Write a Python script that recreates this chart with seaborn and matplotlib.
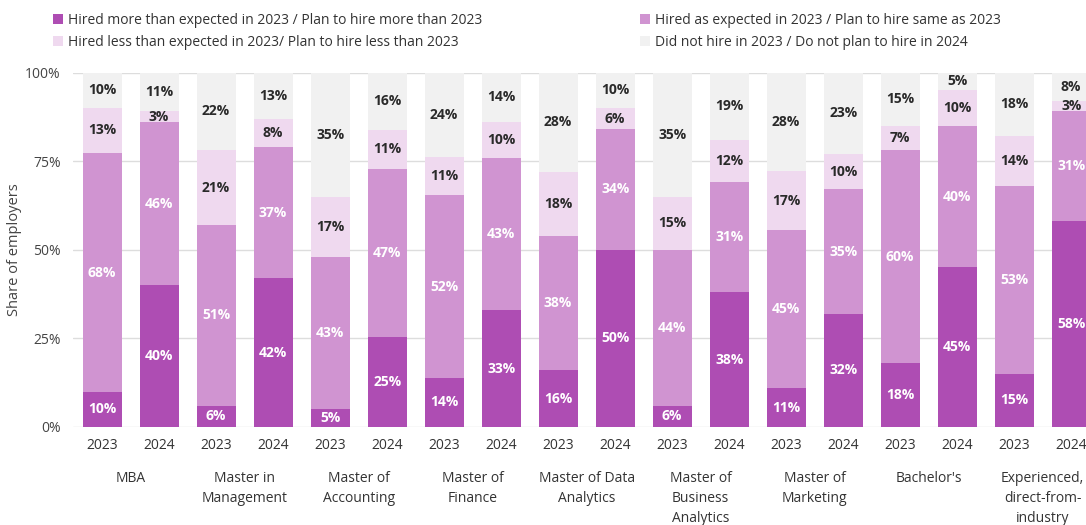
import numpy as np
import pandas as pd
import matplotlib
matplotlib.use("Agg")
import matplotlib.pyplot as plt
import seaborn as sns
from matplotlib.patches import Patch

programs = ["MBA", "Master in\nManagement", "Master of\nAccounting", "Master of\nFinance",
            "Master of Data\nAnalytics", "Master of\nBusiness\nAnalytics", "Master of\nMarketing",
            "Bachelor's", "Experienced,\ndirect-from-\nindustry"]
years = ["2023", "2024"]

more = [10, 40, 6, 42, 5, 25, 14, 33, 16, 50, 6, 38, 11, 32, 18, 45, 15, 58]
same = [68, 46, 51, 37, 43, 47, 52, 43, 38, 34, 44, 31, 45, 35, 60, 40, 53, 31]
less = [13, 3, 21, 8, 17, 11, 11, 10, 18, 6, 15, 12, 17, 10, 7, 10, 14, 3]
none = [10, 11, 22, 13, 35, 16, 24, 14, 28, 10, 35, 19, 28, 23, 15, 5, 18, 8]

series_names = ["Hired more than expected in 2023 / Plan to hire more than 2023",
                "Hired as expected in 2023 / Plan to hire same as 2023",
                "Hired less than expected in 2023/ Plan to hire less than 2023",
                "Did not hire in 2023 / Do not plan to hire in 2024"]
colors = ["#AE4DB3", "#D094D1", "#EFD9EF", "#F1F1F1"]
label_colors = ["white", "white", "#2a2a2a", "#2a2a2a"]

sns.set_theme(style="white")
plt.rcParams['font.family'] = ['Open Sans', 'DejaVu Sans']

fig = plt.figure(figsize=(10.86, 5.25), dpi=100)
ax = fig.add_axes([73/1086, 98/525, 1 - 73/1086, (427-72.5)/525])

n = len(more)
bar_ids = [str(i) for i in range(n)]
vals = np.array([more, same, less, none], dtype=float)
# stack as shares of each bar's total (percent-stacked, as in the source)
shares = vals / vals.sum(axis=0) * 100
cum = np.cumsum(shares, axis=0)

for k in range(3, -1, -1):
    df = pd.DataFrame({"bar": bar_ids, "h": cum[k]})
    sns.barplot(data=df, x="bar", y="h", order=bar_ids, color=colors[k],
                width=0.684, saturation=1, ax=ax, zorder=2, linewidth=0)

for k in range(4):
    for i in range(n):
        yc = cum[k, i] - shares[k, i] / 2
        ax.text(i, yc, f"{int(vals[k, i])}%", ha="center", va="center", fontsize=10,
                fontweight="bold", color=label_colors[k], zorder=5)

ax.set_xlim(-0.51, 17.26)
ax.set_ylim(0, 100)
ax.set_yticks([0, 25, 50, 75, 100])
ax.set_yticklabels(["0%", "25%", "50%", "75%", "100%"], fontsize=10, color="#444444")
ax.set_xticks(range(n))
ax.set_xticklabels([years[i % 2] for i in range(n)], fontsize=10, color="#333333")
ax.tick_params(axis="both", length=0)
ax.tick_params(axis="x", pad=8)
ax.tick_params(axis="y", pad=9)
ax.set_xlabel("")
ax.set_ylabel("Share of employers", fontsize=10.5, color="#444444", labelpad=2)
ax.yaxis.grid(True, color="#DDDDDD", linewidth=1, zorder=0)
ax.set_axisbelow(True)
for s in ax.spines.values():
    s.set_visible(False)

for g, name in enumerate(programs):
    ax.text(2 * g + 0.5, -0.125, name, transform=ax.get_xaxis_transform(),
            ha="center", va="top", fontsize=10, color="#333333", linespacing=1.45)

handles = [Patch(facecolor=c, edgecolor="none") for c in colors]
fig.legend([handles[0], handles[2]], [series_names[0], series_names[2]],
           loc="upper left", bbox_to_anchor=(40/1086, 1.0), frameon=False,
           fontsize=10, handlelength=0.75, handleheight=0.75, handletextpad=0.4,
           labelspacing=0.55, labelcolor="#333333")
fig.legend([handles[1], handles[3]], [series_names[1], series_names[3]],
           loc="upper left", bbox_to_anchor=(627/1086, 1.0), frameon=False,
           fontsize=10, handlelength=0.75, handleheight=0.75, handletextpad=0.4,
           labelspacing=0.55, labelcolor="#333333")

fig.savefig("out.png", dpi=100)
